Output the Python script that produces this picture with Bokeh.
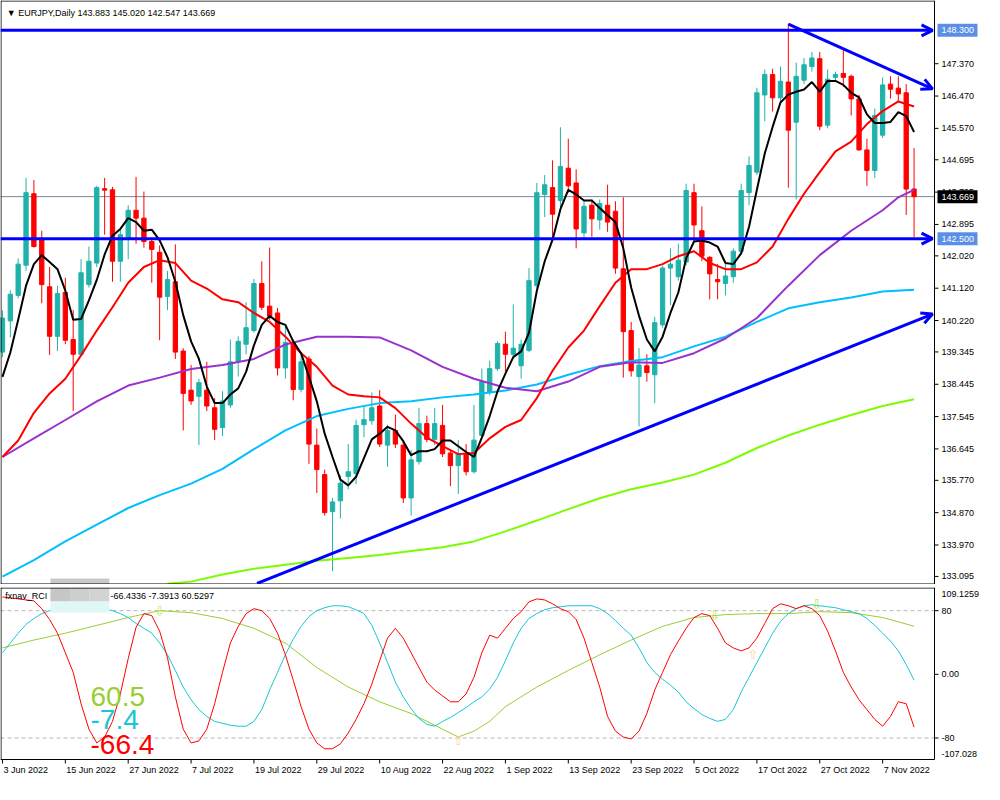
from bokeh.plotting import figure
from bokeh.layouts import column
from bokeh.models import ColumnDataSource, Range1d, Label, Arrow, OpenHead
from bokeh.core.properties import value
from bokeh.embed import file_html
from bokeh.resources import INLINE

# ---------------- data (EURJPY daily, 3 Jun 2022 .. 11 Nov 2022) ----------------
opens = [139.34, 140.21, 140.92, 141.76, 143.75, 142.50, 141.16, 139.78, 141.00, 139.69,
         139.28, 141.22, 141.82, 143.89, 143.86, 141.87, 142.50, 143.29, 143.07, 142.42,
         142.12, 140.89, 141.30, 139.37, 138.28, 138.11, 138.28, 137.79, 137.24, 137.87,
         139.07, 139.56, 139.94, 141.25, 140.62, 140.43, 138.90, 139.58, 138.30, 139.15,
         136.75, 135.93, 134.90, 135.20, 135.88, 135.96, 137.32, 137.43, 137.84, 136.75,
         137.16, 136.75, 135.28, 136.29, 137.35, 136.91, 137.30, 136.53, 136.18, 136.51,
         136.01, 137.02, 138.22, 138.88, 139.56, 139.28, 138.96, 139.39, 141.19, 143.73,
         143.92, 143.56, 144.46, 144.05, 142.66, 143.43, 143.02, 143.43, 143.26, 141.66,
         139.94, 138.66, 138.96, 138.71, 140.10, 141.68, 141.44, 141.85, 143.78, 142.72,
         141.98, 141.36, 141.25, 141.44, 142.15, 143.78, 144.35, 146.50, 147.07, 146.42,
         146.86, 145.74, 146.91, 147.29, 147.51, 145.66, 146.99, 147.10, 147.02, 146.39,
         144.97, 144.40, 145.38, 146.80, 146.69, 146.56, 143.883]
highs = [140.50, 141.06, 141.95, 144.19, 144.13, 142.72, 141.71, 141.19, 141.41, 140.51,
         141.93, 142.28, 143.97, 144.19, 143.94, 142.75, 143.43, 144.22, 143.81, 142.53,
         142.31, 141.60, 142.34, 139.45, 138.98, 138.60, 139.07, 138.06, 138.25, 139.69,
         139.78, 140.73, 141.38, 141.87, 142.25, 140.57, 140.10, 139.69, 139.34, 139.23,
         137.21, 136.07, 135.28, 135.91, 136.78, 137.46, 137.84, 138.22, 138.28, 137.32,
         137.60, 136.86, 136.61, 137.79, 137.57, 137.79, 137.87, 136.61, 136.89, 136.78,
         137.87, 138.88, 139.10, 139.64, 139.91, 140.67, 139.69, 141.68, 144.05, 144.27,
         144.68, 145.60, 145.28, 144.43, 143.56, 143.59, 143.59, 144.00, 143.54, 143.65,
         140.18, 139.45, 139.28, 140.32, 141.74, 142.23, 142.36, 144.03, 144.03, 143.40,
         142.01, 141.79, 141.87, 142.23, 144.03, 144.79, 146.70, 147.21, 147.23, 147.29,
         148.48, 147.40, 147.53, 147.70, 147.70, 147.21, 147.15, 147.75, 147.07, 146.50,
         145.28, 146.12, 146.99, 147.02, 147.02, 146.80, 145.020]
lows = [139.20, 139.75, 140.84, 141.60, 142.25, 140.70, 139.26, 139.37, 139.56, 137.70,
        139.23, 141.14, 141.71, 142.61, 141.30, 141.30, 141.93, 142.36, 142.25, 141.27,
        139.67, 140.51, 139.15, 137.16, 137.87, 136.75, 137.70, 136.89, 137.00, 137.79,
        138.66, 139.28, 139.88, 140.51, 140.24, 138.69, 138.60, 138.00, 138.22, 136.23,
        135.42, 134.79, 133.24, 134.71, 135.52, 135.66, 136.97, 137.32, 136.70, 136.15,
        136.67, 135.14, 134.79, 136.21, 136.83, 136.75, 136.42, 135.61, 135.39, 135.91,
        135.96, 136.97, 138.14, 138.82, 138.79, 139.15, 138.60, 139.34, 141.11, 143.10,
        142.50, 143.37, 143.78, 142.23, 142.50, 142.55, 142.75, 142.69, 141.52, 138.63,
        138.66, 137.27, 138.52, 137.92, 140.02, 140.65, 141.33, 141.76, 142.42, 141.87,
        140.81, 140.81, 140.92, 141.27, 142.06, 143.43, 144.27, 145.77, 146.04, 146.26,
        143.92, 143.59, 146.80, 147.15, 145.52, 145.57, 146.88, 146.72, 145.93, 144.95,
        143.97, 144.19, 145.30, 146.40, 146.31, 143.16, 142.547]
closes = [140.29, 140.95, 141.79, 143.78, 142.28, 141.22, 139.78, 140.97, 139.67, 139.28,
          141.55, 141.87, 143.92, 143.85, 141.87, 142.61, 143.29, 143.07, 142.42, 142.20,
          140.87, 141.36, 139.34, 138.19, 137.98, 138.49, 137.84, 137.19, 137.98, 139.07,
          139.64, 140.02, 141.25, 140.59, 140.34, 138.90, 139.61, 138.30, 139.07, 136.78,
          136.07, 134.87, 135.17, 135.69, 136.01, 137.30, 137.46, 137.79, 136.78, 137.16,
          136.78, 135.28, 136.34, 137.35, 136.91, 137.35, 136.51, 136.18, 136.51, 136.01,
          136.89, 138.52, 138.88, 139.58, 139.28, 139.45, 139.56, 141.33, 143.78, 144.00,
          143.18, 144.51, 143.97, 142.77, 143.40, 143.05, 143.48, 142.96, 141.68, 139.91,
          138.82, 138.98, 138.77, 140.16, 141.68, 141.79, 141.90, 143.84, 142.88, 142.01,
          141.52, 141.30, 141.46, 142.15, 143.84, 144.54, 146.56, 147.07, 146.42, 146.88,
          145.52, 147.02, 147.34, 147.53, 145.63, 146.94, 147.07, 146.99, 146.39, 144.97,
          144.40, 145.93, 146.78, 146.66, 146.53, 143.88, 143.669]

# moving averages (bar index, price)
ma_black = [138.65, 139.33, 140.24, 141.19, 141.79, 142.04, 141.85, 141.65, 141.05, 140.24,
            140.26, 140.78, 141.35, 142.06, 142.58, 142.77, 143.07, 142.96, 142.72, 142.75,
            142.45, 141.98, 141.30, 140.37, 139.64, 139.15, 138.38, 137.92, 137.92, 138.16,
            138.33, 138.79, 139.53, 140.10, 140.35, 140.18, 140.10, 139.64, 139.31, 138.65,
            137.97, 137.07, 136.42, 135.79, 135.63, 135.87, 136.39, 136.91, 137.07, 137.26,
            137.16, 136.86, 136.47, 136.58, 136.58, 136.64, 136.88, 136.88, 136.72, 136.56,
            136.42, 136.96, 137.56, 138.25, 138.74, 139.20, 139.36, 139.88, 141.05, 141.87,
            142.47, 143.32, 143.86, 143.73, 143.56, 143.56, 143.35, 143.15, 142.96, 142.23,
            141.14, 140.35, 139.69, 139.36, 139.77, 140.43, 141.00, 141.95, 142.42, 142.45,
            142.39, 142.28, 141.82, 141.79, 142.09, 142.83, 143.86, 144.87, 145.61, 146.29,
            146.51, 146.59, 146.65, 146.86, 146.59, 146.89, 146.89, 146.78, 146.56, 146.43,
            145.96, 145.72, 145.72, 145.75, 146.02, 145.91, 145.47]
ma_red_idx = list(range(0, 117, 2))
ma_red = [136.42, 136.88, 137.65, 138.19, 138.60, 139.25, 139.94, 140.59, 141.27, 141.71,
          141.90, 141.82, 141.33, 141.11, 140.81, 140.73, 140.43, 140.18, 139.77, 139.31,
          138.93, 138.41, 138.16, 138.11, 138.08, 137.78, 137.35, 136.96, 136.72, 136.50,
          136.53, 136.94, 137.26, 137.45, 138.06, 138.82, 139.47, 139.94, 140.62, 141.27,
          141.65, 141.65, 141.79, 142.01, 142.15, 141.82, 141.65, 141.65, 141.84, 142.28,
          143.05, 143.75, 144.35, 144.93, 145.20, 145.69, 146.05, 146.32, 146.18]
ma_purple_idx = list(range(0, 113, 4)) + [114, 116]
ma_purple = [136.42, 136.94, 137.45, 137.97, 138.41, 138.63, 138.87, 138.98, 139.15, 139.55,
             139.77, 139.77, 139.75, 139.39, 138.93, 138.60, 138.35, 138.25, 138.52, 138.93,
             139.06, 139.04, 139.31, 139.72, 140.29, 141.19, 142.04, 142.72, 143.29,
             143.65, 143.86]
ma_cyan_idx = list(range(0, 117, 4))
ma_cyan = [133.09, 133.55, 134.07, 134.54, 135.00, 135.36, 135.68, 136.09, 136.64, 137.16,
           137.56, 137.76, 137.92, 137.97, 138.08, 138.16, 138.27, 138.44, 138.71, 138.95,
           139.09, 139.20, 139.50, 139.77, 140.18, 140.56, 140.73, 140.86, 141.03, 141.08]
ma_green_idx = [21] + list(range(24, 117, 4))
ma_green = [132.89, 132.95, 133.15, 133.31, 133.42, 133.53, 133.61, 133.69, 133.80, 133.91,
            134.07, 134.35, 134.65, 134.97, 135.27, 135.52, 135.71, 135.93, 136.26, 136.67,
            137.02, 137.32, 137.59, 137.84, 138.03]

# RCI sub-window
rci_short = [97.2, 96.0, 94.8, 93.5, 92.3, 82.5, 68.9, 51.7, 27.1, 2.5,
             -36.9, -68.9, -86.2, -78.8, -59.1, -24.6, 19.7, 59.1, 76.3, 73.8,
             54.2, 20.9, -28.3, -68.9, -86.2, -83.7, -68.9, -36.9, 2.5, 39.4,
             60.3, 76.3, 82.5, 80.0, 70.2, 51.7, 24.6, -7.4, -40.6, -68.9,
             -86.2, -93.5, -93.5, -87.4, -73.8, -56.6, -36.9, -12.3, 17.2, 45.5,
             57.8, 45.5, 27.1, 8.6, -9.8, -19.7, -27.1, -34.5, -34.5, -24.6,
             -3.7, 27.1, 49.2, 45.5, 57.8, 70.2, 78.8, 91.1, 94.8, 93.5,
             88.6, 82.5, 78.8, 68.9, 45.5, 14.8, -16.0, -52.9, -71.4, -78.8,
             -81.2, -71.4, -49.2, -19.7, 2.5, 24.6, 41.8, 57.8, 71.4, 76.3,
             73.8, 57.8, 39.4, 33.2, 29.5, 33.2, 45.5, 64.0, 82.5, 88.6,
             86.2, 82.5, 86.2, 82.5, 73.8, 54.2, 29.5, 2.5, -16.0, -32.0,
             -44.3, -56.6, -65.2, -52.9, -34.5, -36.9, -66.4]
rci_mid = [27.1, 39.4, 51.7, 62.8, 70.2, 76.3, 80.0, 82.5, 83.7, 84.9,
           86.2, 86.2, 84.9, 82.5, 80.0, 76.3, 71.4, 64.0, 57.8, 51.7,
           39.4, 24.6, 4.9, -16.0, -32.0, -44.3, -52.9, -59.1, -61.5, -64.0,
           -65.2, -65.2, -59.1, -44.3, -19.7, 2.5, 24.6, 44.3, 60.3, 72.6,
           80.0, 83.7, 86.2, 86.2, 84.9, 81.2, 76.3, 61.5, 39.4, 14.8,
           -9.8, -28.3, -43.1, -55.4, -62.8, -65.2, -59.1, -54.2, -48.0, -41.8,
           -34.5, -28.3, -18.5, -3.7, 17.2, 39.4, 57.8, 70.2, 76.3, 81.2,
           83.7, 84.9, 86.2, 86.2, 86.2, 86.2, 82.5, 76.3, 67.7, 57.8,
           49.2, 33.2, 14.8, 2.5, -6.2, -13.5, -22.2, -34.5, -43.1, -50.5,
           -55.4, -59.1, -56.6, -44.3, -22.2, -3.7, 14.8, 33.2, 51.7, 66.5,
           76.3, 82.5, 86.2, 87.4, 86.2, 84.9, 83.7, 81.2, 78.8, 76.3,
           70.2, 61.5, 51.7, 41.8, 29.5, 12.3, -7.4]
rci_long_idx = [0, 4, 8, 12, 16, 20, 24, 28, 32, 36, 40, 44, 48, 52, 56, 58, 60, 62, 64,
                68, 72, 76, 80, 84, 88, 92, 96, 100, 104, 108, 112, 116]
rci_long = [33.2, 43.1, 51.7, 61.5, 71.4, 80.0, 77.5, 70.2, 57.8, 39.4, 8.6, -16.0, -34.5,
            -49.2, -68.9, -78.8, -71.4, -59.1, -40.6, -16.0, 4.9, 24.6, 43.1, 60.3, 71.4,
            75.1, 76.3, 76.3, 78.8, 77.5, 71.4, 60.5]
sig_idx = [20, 58, 90.6, 103.6, 95.5]
sig_val = [78.8, -83.7, 73.8, 87.4, 24.6]
sig_txt = ["\u21e9", "\u21e7", "\u21e9", "\u21e9", "\u21e7"]
sig_col = ["#c8ec50", "#ffd2a6", "#b8e04a", "#b8e04a", "#ffd2a6"]
rci_last = ["-66.4336", "-7.3913", "60.5297"]

# drawn objects
resistance = 148.300
support = 142.500
last_price = 143.669
down_trend_bar = [100, 118.35]
down_trend_price = [148.47, 146.67]
up_trend_bar = [32.4, 118.35]
up_trend_price = [132.90, 140.40]

price_ticks = [147.370, 146.470, 145.570, 144.695, 143.795, 142.895, 142.020, 141.120,
               140.220, 139.345, 138.445, 137.545, 136.645, 135.770, 134.870, 133.970, 133.095]
rci_levels = [80, 0, -80]
rci_level_labels = ["80", "0.00", "-80"]
rci_max, rci_min = 109.1259, -107.028
date_tick_bars = list(range(0, 113, 8))
date_tick_labels = ["3 Jun 2022", "15 Jun 2022", "27 Jun 2022", "7 Jul 2022", "19 Jul 2022",
                    "29 Jul 2022", "10 Aug 2022", "22 Aug 2022", "1 Sep 2022", "13 Sep 2022",
                    "23 Sep 2022", "5 Oct 2022", "17 Oct 2022", "27 Oct 2022", "7 Nov 2022"]

# ---------------- layout constants ----------------
FONT = "Liberation Sans"
FS = "9px"
BULL = "#20B2AA"
BEAR = "#FF0000"
BLUE = "#0000FF"
TOTAL_W = 984
CHART_W = 934
X0, XEDGE = -0.25, 118.6                  # chart area in bar units
BAR_PX = CHART_W / (XEDGE - X0)
XEND = X0 + TOTAL_W / BAR_PX
P_LO, P_HI = 132.87, 149.13
TOP_H = 584
PPX = TOP_H / (P_HI - P_LO)               # px per price unit
RCI_H = 172
RPX = RCI_H / (rci_max - rci_min)
BOT_H = RCI_H + 22
R_LO = rci_min - 22 / RPX

def dx(px):
    return px / BAR_PX

xr = Range1d(X0, XEND)

# ---------------- price panel ----------------
p = figure(frame_width=TOTAL_W, frame_height=TOP_H, x_range=xr, y_range=Range1d(P_LO, P_HI),
           output_backend="svg", toolbar_location=None, x_axis_location=None,
           y_axis_location=None, min_border=0, outline_line_color=None,
           background_fill_color="white")
p.grid.visible = False

n = len(closes)
src = ColumnDataSource(dict(
    x=list(range(n)), h=highs, l=lows,
    top=[max(o, c) for o, c in zip(opens, closes)],
    bottom=[min(o, c) for o, c in zip(opens, closes)],
    color=[BULL if c >= o else BEAR for o, c in zip(opens, closes)]))

# redaction box (lower part of it reaches into the price window)
p.quad(left=[6.1], right=[13.6], top=[P_LO + 6 / PPX], bottom=[P_LO], fill_color="#c9c9c9",
       line_color=None)

# bid line
p.segment(x0=[X0], y0=[last_price], x1=[XEDGE], y1=[last_price], line_color="#778899", line_width=1)

p.segment(x0="x", y0="h", x1="x", y1="l", line_color="color", line_width=1, source=src)
p.vbar(x="x", width=0.55, top="top", bottom="bottom", fill_color="color",
       line_color="color", line_width=1, source=src)

p.line(ma_green_idx, ma_green, line_color="#7CFC00", line_width=2)
p.line(ma_cyan_idx, ma_cyan, line_color="#00BFFF", line_width=2)
p.line(ma_purple_idx, ma_purple, line_color="#9932CC", line_width=2)
p.line(ma_red_idx, ma_red, line_color="#FF0000", line_width=2)
p.line(list(range(n)), ma_black, line_color="black", line_width=2)

def blue_arrow(x0, y0, x1, y1):
    p.add_layout(Arrow(end=OpenHead(size=11, line_color=BLUE, line_width=3),
                       x_start=x0, y_start=y0, x_end=x1, y_end=y1,
                       line_color=BLUE, line_width=3))

blue_arrow(X0, resistance, 118.35, resistance)
blue_arrow(X0, support, 118.35, support)
blue_arrow(down_trend_bar[0], down_trend_price[0], down_trend_bar[1], down_trend_price[1])
blue_arrow(up_trend_bar[0], up_trend_price[0], up_trend_bar[1], up_trend_price[1])

# chart border
eps_x, eps_p = dx(0.5), 0.5 / PPX
p.segment(x0=[X0 + eps_x, X0 + eps_x, XEDGE, X0], y0=[P_LO, P_HI - eps_p, P_LO, P_LO + eps_p],
          x1=[X0 + eps_x, XEDGE, XEDGE, XEDGE], y1=[P_HI, P_HI - eps_p, P_HI, P_LO + eps_p],
          line_color="black", line_width=1)

# price scale
p.segment(x0=[XEDGE] * len(price_ticks), y0=price_ticks,
          x1=[XEDGE + dx(4)] * len(price_ticks), y1=price_ticks, line_color="black")
p.text(x=[XEDGE + dx(7)] * len(price_ticks), y=price_ticks,
       text=[f"{t:.3f}" for t in price_ticks], text_font=value(FONT), text_font_size=FS,
       text_color="black", text_baseline="middle", text_align="left")

tag_y = [resistance, support, last_price]
tag_bg = ["#5b8fe6", "#5b8fe6", "black"]
p.quad(left=[XEDGE + dx(3)] * 3, right=[XEDGE + dx(43)] * 3,
       top=[y + 6.5 / PPX for y in tag_y], bottom=[y - 6.5 / PPX for y in tag_y],
       fill_color=tag_bg, line_color=None)
p.text(x=[XEDGE + dx(7)] * 3, y=tag_y, text=[f"{t:.3f}" for t in tag_y],
       text_font=value(FONT), text_font_size=FS, text_color="white",
       text_baseline="middle", text_align="left")

p.add_layout(Label(x=0.55, y=P_HI - 12 / PPX,
                   text="\u25bc EURJPY,Daily  %.3f %.3f %.3f %.3f" % (opens[-1], highs[-1], lows[-1], closes[-1]),
                   text_font=FONT, text_font_size=FS, text_color="black", text_baseline="middle"))

# ---------------- RCI panel ----------------
q = figure(frame_width=TOTAL_W, frame_height=BOT_H, x_range=xr, y_range=Range1d(R_LO, rci_max),
           output_backend="svg", toolbar_location=None, x_axis_location=None,
           y_axis_location=None, min_border=0, min_border_top=3, outline_line_color=None)
q.grid.visible = False

q.segment(x0=[X0, X0], y0=[80, -80], x1=[XEDGE, XEDGE], y1=[80, -80],
          line_color="#b8b8b8", line_width=1, line_dash="4 3")

q.line(rci_long_idx, rci_long, line_color="#9ACD32", line_width=1)
q.line(list(range(n)), rci_mid, line_color="#19C6D2", line_width=1)
q.line(list(range(n)), rci_short, line_color="#FF0000", line_width=1)

q.text(x=sig_idx, y=sig_val, text=sig_txt, text_color=sig_col, text_font=value("DejaVu Sans"),
       text_font_size="13px", text_align="center", text_baseline="middle")

# redaction box in the indicator title
q.quad(left=[6.1, 8.6, 11.1], right=[8.6, 11.1, 13.6], top=[rci_max] * 3,
       bottom=[rci_max - 14 / RPX] * 3,
       fill_color=["#c6c6c6", "#cecece", "#d3d3d3"], line_color=None)
q.quad(left=[6.1], right=[13.6], top=[rci_max - 14 / RPX], bottom=[rci_max - 25 / RPX],
       fill_color="#e0f7f7", line_color=None)

q.add_layout(Label(x=0.35, y=rci_max - 8 / RPX, text="fxnav_RCI", text_font=FONT,
                   text_font_size=FS, text_color="black", text_baseline="middle"))
q.add_layout(Label(x=13.75, y=rci_max - 8 / RPX, text=" ".join(rci_last), text_font=FONT,
                   text_font_size=FS, text_color="black", text_baseline="middle"))

for txt, yv, col in (("60.5", -28.3, "#9ACD32"), ("-7.4", -56.6, "#19C6D2"),
                     ("-66.4", -88.6, "#FF0000")):
    q.add_layout(Label(x=11.2, y=yv, text=txt, text_font="Liberation Sans",
                       text_font_size="28px", text_color=col, text_baseline="alphabetic"))

# border of RCI window
eps_r = 0.5 / RPX
q.segment(x0=[X0 + eps_x, X0, XEDGE, X0], y0=[rci_min, rci_max - eps_r, rci_min, rci_min],
          x1=[X0 + eps_x, XEDGE, XEDGE, XEDGE], y1=[rci_max, rci_max - eps_r, rci_max, rci_min],
          line_color="black", line_width=1)

# RCI scale
q.segment(x0=[XEDGE] * 3, y0=rci_levels, x1=[XEDGE + dx(4)] * 3, y1=rci_levels, line_color="black")
scale_y = [rci_max - 6 / RPX] + rci_levels + [rci_min + 6 / RPX]
scale_t = ["%.4f" % rci_max] + rci_level_labels + ["%.3f" % rci_min]
q.text(x=[XEDGE + dx(7)] * len(scale_y), y=scale_y, text=scale_t, text_font=value(FONT),
       text_font_size=FS, text_color="black", text_baseline="middle", text_align="left")

# date axis
q.segment(x0=date_tick_bars, y0=[rci_min] * len(date_tick_bars), x1=date_tick_bars,
          y1=[rci_min - 4 / RPX] * len(date_tick_bars), line_color="black")
q.text(x=[b + dx(1) for b in date_tick_bars], y=[rci_min - 5 / RPX] * len(date_tick_bars),
       text=date_tick_labels, text_font=value(FONT), text_font_size=FS, text_color="black",
       text_baseline="top", text_align="left")

layout = column(p, q, spacing=0)
open("out.html", "w").write(file_html(layout, INLINE))
